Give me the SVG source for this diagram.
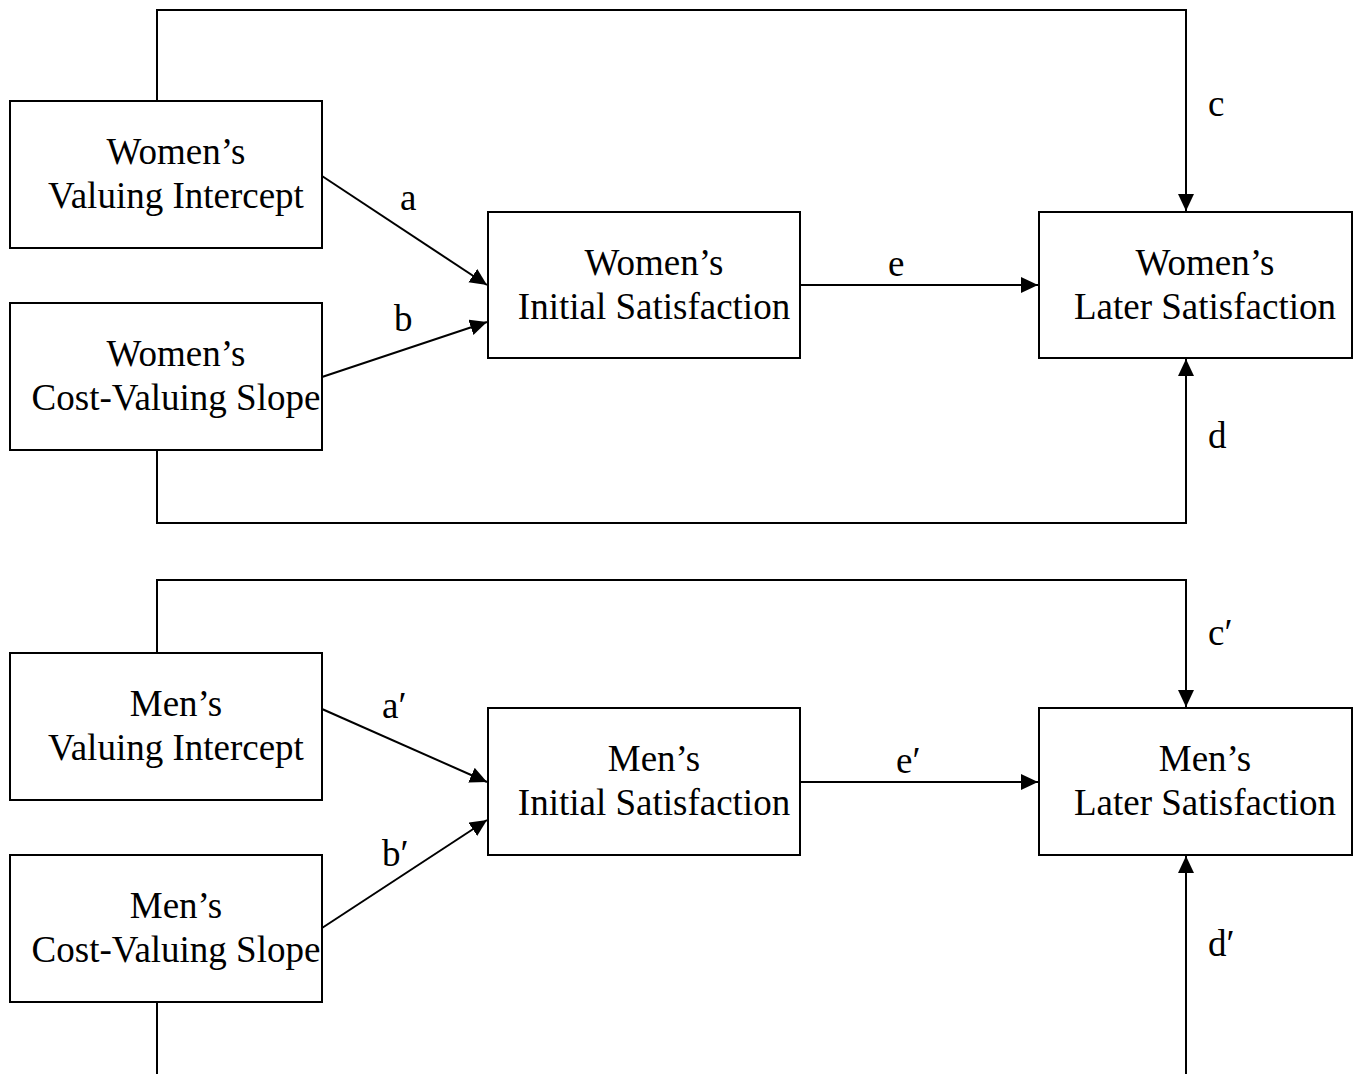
<svg xmlns="http://www.w3.org/2000/svg" width="1358" height="1074" viewBox="0 0 1358 1074">
<style>
.box{fill:#fff;stroke:#000;stroke-width:2}
.t{font-family:"Liberation Serif","Times New Roman",serif;font-size:37px;fill:#000;text-anchor:middle}
.l{font-family:"Liberation Serif","Times New Roman",serif;font-size:37px;fill:#000}
.c{fill:none;stroke:#000;stroke-width:2}
</style>
<defs>
<marker id="ah" markerUnits="userSpaceOnUse" markerWidth="19" markerHeight="18" refX="17" refY="8" orient="auto">
<path d="M0,0 L17,8 L0,16 Z" fill="#000"/>
</marker>
</defs>
<rect width="1358" height="1074" fill="#fff"/>
<g id="connectors">
<polyline class="c" points="157,101 157,10 1186,10 1186,211" marker-end="url(#ah)"/>
<polyline class="c" points="157,450 157,523 1186,523 1186,359" marker-end="url(#ah)"/>
<line class="c" x1="322" y1="176" x2="487" y2="285" marker-end="url(#ah)"/>
<line class="c" x1="322" y1="377" x2="487" y2="322" marker-end="url(#ah)"/>
<line class="c" x1="800" y1="285" x2="1038" y2="285" marker-end="url(#ah)"/>
<polyline class="c" points="157,653 157,580 1186,580 1186,707" marker-end="url(#ah)"/>
<line class="c" x1="157" y1="1002" x2="157" y2="1074"/>
<line class="c" x1="1186" y1="1074" x2="1186" y2="856" marker-end="url(#ah)"/>
<line class="c" x1="322" y1="709" x2="487" y2="782" marker-end="url(#ah)"/>
<line class="c" x1="322" y1="928" x2="487" y2="820" marker-end="url(#ah)"/>
<line class="c" x1="800" y1="782" x2="1038" y2="782" marker-end="url(#ah)"/>
<text class="l" x="400" y="210">a</text>
<text class="l" x="394" y="331">b</text>
<text class="l" x="888" y="276">e</text>
<text class="l" x="1208" y="116">c</text>
<text class="l" x="1208" y="448">d</text>
<text class="l" x="382" y="718">a′</text>
<text class="l" x="382" y="866">b′</text>
<text class="l" x="896" y="773">e′</text>
<text class="l" x="1208" y="645">c′</text>
<text class="l" x="1208" y="956">d′</text>
</g>
<g id="w_vi"><rect class="box" x="10" y="101" width="312" height="147"/><text class="t" x="176" y="164">Women’s</text><text class="t" x="176" y="208">Valuing Intercept</text></g>
<g id="w_cvs"><rect class="box" x="10" y="303" width="312" height="147"/><text class="t" x="176" y="366">Women’s</text><text class="t" x="176" y="410">Cost-Valuing Slope</text></g>
<g id="w_is"><rect class="box" x="488" y="212" width="312" height="146"/><text class="t" x="654" y="275">Women’s</text><text class="t" x="654" y="319">Initial Satisfaction</text></g>
<g id="w_ls"><rect class="box" x="1039" y="212" width="313" height="146"/><text class="t" x="1205" y="275">Women’s</text><text class="t" x="1205" y="319">Later Satisfaction</text></g>
<g id="m_vi"><rect class="box" x="10" y="653" width="312" height="147"/><text class="t" x="176" y="716">Men’s</text><text class="t" x="176" y="760">Valuing Intercept</text></g>
<g id="m_cvs"><rect class="box" x="10" y="855" width="312" height="147"/><text class="t" x="176" y="918">Men’s</text><text class="t" x="176" y="962">Cost-Valuing Slope</text></g>
<g id="m_is"><rect class="box" x="488" y="708" width="312" height="147"/><text class="t" x="654" y="771">Men’s</text><text class="t" x="654" y="815">Initial Satisfaction</text></g>
<g id="m_ls"><rect class="box" x="1039" y="708" width="313" height="147"/><text class="t" x="1205" y="771">Men’s</text><text class="t" x="1205" y="815">Later Satisfaction</text></g>
</svg>
